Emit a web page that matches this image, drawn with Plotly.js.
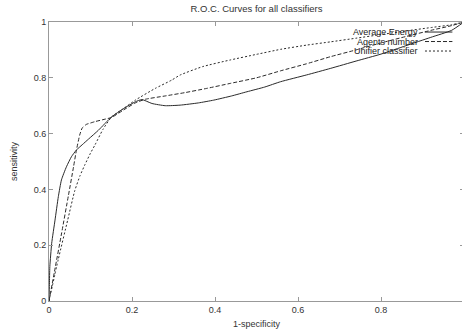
<!DOCTYPE html>
<html>
<head>
<meta charset="utf-8">
<script src="https://cdn.plot.ly/plotly-3.0.1.min.js"></script>
<style>html,body{margin:0;padding:0;overflow:hidden;background:#fff;}#chart{width:466px;height:333px;}</style>
</head>
<body>
<div id="chart"></div>
<script>
// Average Energy (solid)
var energyX = [0, 0.001, 0.002, 0.0065, 0.0145, 0.0225, 0.03, 0.042, 0.054, 0.066, 0.08, 0.095, 0.119, 0.151, 0.18, 0.208, 0.224, 0.248, 0.28, 0.316, 0.36, 0.397, 0.44, 0.477, 0.52, 0.558, 0.62, 0.679, 0.74, 0.8, 0.86, 0.92, 0.97, 1.0];
var energyY = [0, 0.06, 0.123, 0.207, 0.29, 0.374, 0.434, 0.481, 0.517, 0.541, 0.56, 0.58, 0.612, 0.66, 0.69, 0.714, 0.722, 0.708, 0.70, 0.702, 0.71, 0.72, 0.735, 0.75, 0.767, 0.786, 0.81, 0.834, 0.86, 0.885, 0.915, 0.945, 0.97, 1.0];
// Agents number (dashed)
var agentsX = [0, 0.015, 0.03, 0.047, 0.059, 0.066, 0.074, 0.08, 0.09, 0.1, 0.111, 0.13, 0.151, 0.18, 0.208, 0.232, 0.28, 0.328, 0.38, 0.437, 0.5, 0.558, 0.62, 0.679, 0.74, 0.8, 0.86, 0.92, 0.97, 1.0];
var agentsY = [0, 0.12, 0.24, 0.38, 0.48, 0.54, 0.595, 0.62, 0.633, 0.638, 0.643, 0.65, 0.658, 0.685, 0.71, 0.723, 0.735, 0.747, 0.762, 0.78, 0.80, 0.825, 0.85, 0.876, 0.90, 0.925, 0.948, 0.97, 0.987, 1.0];
// Unifier classifier (dotted)
var unifierX = [0, 0.0225, 0.045, 0.062, 0.075, 0.087, 0.1, 0.111, 0.13, 0.151, 0.18, 0.208, 0.256, 0.296, 0.316, 0.37, 0.437, 0.5, 0.558, 0.62, 0.679, 0.74, 0.8, 0.86, 0.92, 0.97, 1.0];
var unifierY = [0, 0.15, 0.29, 0.395, 0.45, 0.49, 0.53, 0.56, 0.615, 0.66, 0.69, 0.72, 0.762, 0.792, 0.81, 0.84, 0.864, 0.884, 0.902, 0.917, 0.929, 0.942, 0.955, 0.968, 0.98, 0.99, 1.0];

var seriesNames = ["Average Energy", "Agents number", "Unifier classifier"];
var tickVals = [0, 0.2, 0.4, 0.6, 0.8, 1];
var tickText = ["0", "0.2", "0.4", "0.6", "0.8", "1"];

var lineColor = "#2a2a2a";
var dashes = ["solid", "4px,2px", "2px,2px"];
var data = [
  {x: energyX, y: energyY, name: seriesNames[0]},
  {x: agentsX, y: agentsY, name: seriesNames[1]},
  {x: unifierX, y: unifierY, name: seriesNames[2]}
].map(function (t, i) {
  t.type = "scatter"; t.mode = "lines";
  t.line = {color: lineColor, width: 1, dash: dashes[i], shape: "spline", smoothing: 0.5};
  t.showlegend = false; t.hoverinfo = "none";
  return t;
});

var legendY = [0.964, 0.930, 0.896];
var annotations = [], shapes = [];
seriesNames.forEach(function (n, i) {
  annotations.push({xref: "paper", yref: "paper", x: 0.893, y: legendY[i], xanchor: "right", yanchor: "middle",
    text: n, showarrow: false, font: {family: "Liberation Sans, Arial, sans-serif", size: 9, color: "#222"}});
  shapes.push({type: "line", xref: "paper", yref: "paper", x0: 0.906, x1: 0.972, y0: legendY[i], y1: legendY[i],
    line: {color: lineColor, width: 1, dash: dashes[i]}});
});

var axisCommon = {
  showgrid: false, zeroline: false, showline: true, linecolor: "#999", linewidth: 1,
  mirror: "ticks", ticks: "inside", ticklen: 4, tickcolor: "#999", tickwidth: 1,
  tickvals: tickVals, ticktext: tickText,
  tickfont: {family: "Liberation Sans, Arial, sans-serif", size: 9, color: "#333"}
};

var layout = {
  width: 466, height: 333,
  margin: {l: 49, r: 2, t: 22, b: 32},
  paper_bgcolor: "#fff", plot_bgcolor: "#fff",
  title: {text: "R.O.C. Curves for all classifiers", xref: "paper", x: 0.5, y: 0.975, yanchor: "middle",
    font: {family: "Liberation Sans, Arial, sans-serif", size: 9.5, color: "#333"}},
  xaxis: Object.assign({}, axisCommon, {range: [0, 1],
    title: {text: "1-specificity", standoff: 6, font: {family: "Liberation Sans, Arial, sans-serif", size: 9, color: "#333"}}}),
  yaxis: Object.assign({}, axisCommon, {range: [0, 1],
    title: {text: "sensitivity", standoff: 14, font: {family: "Liberation Sans, Arial, sans-serif", size: 9, color: "#333"}}}),
  annotations: annotations,
  shapes: shapes,
  showlegend: false
};

Plotly.newPlot("chart", data, layout, {staticPlot: true, displayModeBar: false});
</script>
</body>
</html>
